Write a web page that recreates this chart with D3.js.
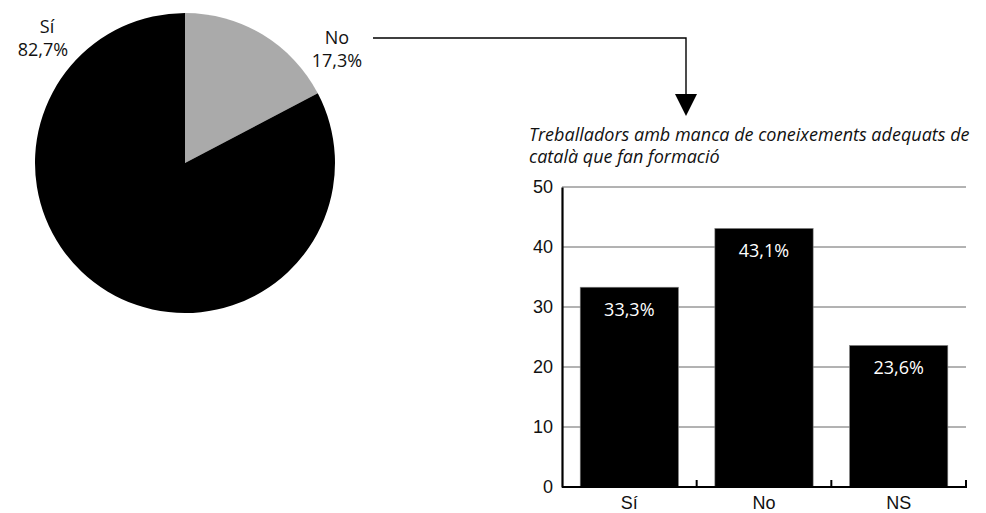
<!DOCTYPE html>
<html>
<head>
<meta charset="utf-8">
<title>Formació en català</title>
<script src="https://cdn.jsdelivr.net/npm/d3@7"></script>
<style>
  body { margin: 0; background: #fff; }
  svg { display: block; font-family: "Open Sans", sans-serif; }
  .lbl { font-size: 18px; fill: #111; }
  .tick text { font-size: 18px; fill: #111; }
</style>
</head>
<body>
<div id="chart"></div>
<script>
// pie data
var pieLabels = ["Sí", "No"];
var pieValues = [82.7, 17.3];
var pieTexts = ["82,7%", "17,3%"];
var pieColors = ["#000000", "#aaaaaa"];

// bar data
var barCats = ["Sí", "No", "NS"];
var barValues = [33.3, 43.1, 23.6];
var barTexts = ["33,3%", "43,1%", "23,6%"];
var yTicks = [0, 10, 20, 30, 40, 50];
var barTitle = ["Treballadors amb manca de coneixements adequats de", "català que fan formació"];

var W = 986, H = 513;
var svg = d3.select("#chart").append("svg").attr("width", W).attr("height", H);

// ---- pie ----
var cx = 185, cy = 163, r = 150;
var pie = d3.pie().sort(null).value(function(i){ return pieValues[i]; });
var arcs = pie([1, 0]); // No first so it starts at 12 o'clock
var arc = d3.arc().innerRadius(0).outerRadius(r);
var pg = svg.append("g").attr("transform", "translate(" + cx + "," + cy + ")");
pg.selectAll("path").data(arcs).enter().append("path")
  .attr("d", arc)
  .attr("fill", function(d){ return pieColors[d.data]; });

// pie labels
var pieLabelPos = [[47, 27], [337, 38]];
pieLabels.forEach(function(l, i){
  var t = svg.append("text").attr("class", "lbl").attr("text-anchor", "middle")
    .attr("x", pieLabelPos[i][0]).attr("y", pieLabelPos[i][1]);
  t.append("tspan").attr("x", pieLabelPos[i][0]).attr("dy", "0.35em").text(l);
  t.append("tspan").attr("x", pieLabelPos[i][0] - (i ? 0 : 4)).attr("dy", "1.25em").text(pieTexts[i]);
});

// connector arrow
svg.append("path").attr("d", "M373,38H686V96").attr("fill", "none").attr("stroke", "#000").attr("stroke-width", 1.4);
svg.append("path").attr("d", "M675,94L697,94L686,116Z").attr("fill", "#000");

// ---- bar chart ----
var x0 = 562, x1 = 966, yTop = 187, yBot = 487;
var x = d3.scaleBand().domain(barCats).range([x0, x1]).paddingInner(0.27).paddingOuter(0.135);
var xb = d3.scaleBand().domain(barCats).range([x0, x1]);
var y = d3.scaleLinear().domain([0, 50]).range([yBot, yTop]);

// title, two lines
barTitle.forEach(function(line, i){
  svg.append("text").attr("class", "lbl").attr("font-style", "italic")
    .attr("x", 529).attr("y", 141 + i * 22)
    .text(line);
});

// grid
svg.append("g").selectAll("line").data(yTicks.slice(1)).enter().append("line")
  .attr("x1", x0).attr("x2", x1)
  .attr("y1", function(d){ return y(d); }).attr("y2", function(d){ return y(d); })
  .attr("stroke", "#666").attr("stroke-width", 1);

// bars
svg.append("g").selectAll("rect").data(barValues).enter().append("rect")
  .attr("x", function(d, i){ return x(barCats[i]); })
  .attr("width", x.bandwidth())
  .attr("y", function(d){ return y(d); })
  .attr("height", function(d){ return yBot - y(d); })
  .attr("fill", "#000").attr("stroke", "#888").attr("stroke-width", 0.6);

svg.append("g").selectAll("text").data(barValues).enter().append("text")
  .attr("x", function(d, i){ return x(barCats[i]) + x.bandwidth() / 2; })
  .attr("y", function(d){ return y(d) + 22; })
  .attr("dy", "0.35em").attr("text-anchor", "middle")
  .attr("font-size", 18).attr("fill", "#fff")
  .text(function(d, i){ return barTexts[i]; });

// y axis
var yAxis = d3.axisLeft(y).tickValues(yTicks).tickSize(0).tickPadding(9);
var ya = svg.append("g").attr("transform", "translate(" + x0 + ",0)").call(yAxis);
ya.select(".domain").attr("stroke", "#000").attr("stroke-width", 2.2);

// x axis
var xAxis = d3.axisBottom(xb).tickSize(0).tickPadding(9);
var xa = svg.append("g").attr("transform", "translate(0," + yBot + ")").call(xAxis);
xa.select(".domain").attr("d", "M" + x0 + ",0H" + x1).attr("stroke", "#000").attr("stroke-width", 2.2);
xa.append("g").selectAll("line").data(barCats).enter().append("line")
  .attr("x1", function(d){ return xb(d) + xb.bandwidth(); })
  .attr("x2", function(d){ return xb(d) + xb.bandwidth(); })
  .attr("y1", 1).attr("y2", -7).attr("stroke", "#000").attr("stroke-width", 2);
</script>
</body>
</html>
